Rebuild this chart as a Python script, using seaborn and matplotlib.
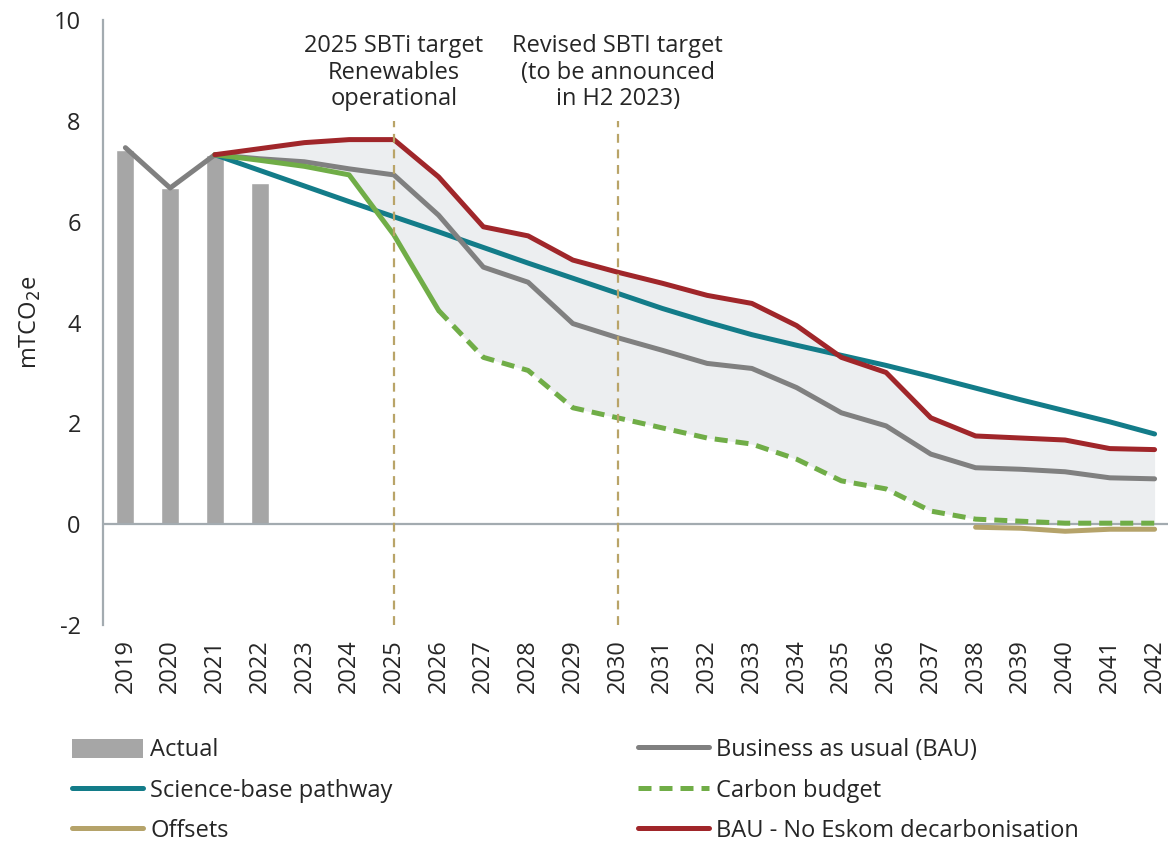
import numpy as np
import pandas as pd
import matplotlib
matplotlib.use("Agg")
import matplotlib.pyplot as plt
from matplotlib.lines import Line2D
from matplotlib.patches import Patch
import seaborn as sns

# values (mTCO2e)
years = list(range(2019, 2043))
actual_years = [2019, 2020, 2021, 2022]
actual = [7.43, 6.67, 7.33, 6.77]

bau = [7.47, 6.67, 7.33, 7.25, 7.19, 7.05, 6.93, 6.13, 5.10, 4.80, 3.98, 3.70,
       3.45, 3.19, 3.09, 2.71, 2.21, 1.95, 1.39, 1.12, 1.09, 1.04, 0.92, 0.90]

proj_years = list(range(2021, 2043))
science = [7.33, 7.02, 6.71, 6.40, 6.10, 5.80, 5.49, 5.18, 4.88, 4.58, 4.28,
           4.01, 3.76, 3.55, 3.35, 3.15, 2.93, 2.70, 2.47, 2.25, 2.03, 1.79]
carbon = [7.33, 7.22, 7.10, 6.93, 5.74, 4.24, 3.31, 3.05, 2.31, 2.11, 1.91,
          1.71, 1.59, 1.29, 0.86, 0.70, 0.26, 0.10, 0.06, 0.02, 0.02, 0.02]
no_eskom = [7.33, 7.45, 7.57, 7.63, 7.63, 6.89, 5.90, 5.72, 5.24, 5.00, 4.78,
            4.54, 4.38, 3.94, 3.31, 3.01, 2.11, 1.75, 1.71, 1.67, 1.50, 1.48]

offset_years = [2038, 2039, 2040, 2041, 2042]
offsets = [-0.06, -0.08, -0.14, -0.10, -0.10]

target_years = [2025, 2030]
target_labels = ["2025 SBTi target\nRenewables\noperational",
                 "Revised SBTI target\n(to be announced\nin H2 2023)"]

# colours
C_BAR = "#a6a6a6"
C_BAU = "#808080"
C_SCI = "#137c89"
C_CARB = "#70ad47"
C_OFF = "#b5a36a"
C_RED = "#a0262a"
C_FILL = "#eceef0"
C_VLINE = "#b9a468"
C_AXIS = "#a3abb0"
C_TEXT = "#262626"

FS = 17

sns.set_style("white")
plt.rcParams["font.family"] = ["Open Sans", "DejaVu Sans"]
plt.rcParams["axes.unicode_minus"] = False

fig = plt.figure(figsize=(11.68, 8.43), dpi=100)
ax = fig.add_axes([0.0882, 0.2586, 0.9118, 0.7175])

# shaded range between carbon budget and no-Eskom case
ax.fill_between(proj_years, carbon, no_eskom, color=C_FILL, lw=0, zorder=1)

# actual bars
bars = pd.DataFrame({"year": actual_years, "value": actual})
sns.barplot(data=bars, x="year", y="value", native_scale=True, width=0.4,
            color=C_BAR, saturation=1, ax=ax, zorder=2)

lw = 3.6
proj = pd.DataFrame({"year": proj_years, "science": science,
                     "carbon": carbon, "no_eskom": no_eskom})
sns.lineplot(data=proj, x="year", y="science", color=C_SCI, lw=lw, ax=ax,
             zorder=3)
sns.lineplot(x=years, y=bau, color=C_BAU, lw=lw, ax=ax, zorder=4)
sns.lineplot(data=proj.iloc[:6], x="year", y="carbon", color=C_CARB, lw=lw,
             ax=ax, zorder=5)
sns.lineplot(data=proj.iloc[5:], x="year", y="carbon", color=C_CARB, lw=lw,
             linestyle=(0, (2.6, 1.6)), ax=ax, zorder=5)
sns.lineplot(x=offset_years, y=offsets, color=C_OFF, lw=lw, ax=ax, zorder=5)
sns.lineplot(data=proj, x="year", y="no_eskom", color=C_RED, lw=lw, ax=ax,
             zorder=6)

# zero line
ax.axhline(0, color=C_AXIS, lw=1.6, zorder=2.5)

# target markers
for yr, lab in zip(target_years, target_labels):
    ax.plot([yr, yr], [-2, 8], color=C_VLINE, lw=1.6, ls=(0, (4, 3)),
            zorder=7)
    ax.text(yr, 9.72, lab, ha="center", va="top", fontsize=FS,
            color=C_TEXT, linespacing=1.13)

ax.set_xlim(2018.5, 2042.3)
ax.set_ylim(-2, 10)
ax.set_yticks([-2, 0, 2, 4, 6, 8, 10])
ax.set_xticks(years)
ax.set_xticklabels([str(y) for y in years], rotation=90)
ax.tick_params(axis="both", length=0, labelsize=FS, colors=C_TEXT)
ax.tick_params(axis="x", pad=10)
ax.tick_params(axis="y", pad=16)
ax.set_xlabel("")
ax.set_ylabel("mTCO$_2$e", fontsize=FS, color=C_TEXT, labelpad=8)
ax.grid(False)

for side in ["top", "right", "bottom"]:
    ax.spines[side].set_visible(False)
ax.spines["left"].set_color(C_AXIS)
ax.spines["left"].set_linewidth(1.6)

handles = [
    Patch(facecolor=C_BAR, edgecolor="none"),
    Line2D([], [], color=C_SCI, lw=lw, solid_capstyle="round"),
    Line2D([], [], color=C_OFF, lw=lw, solid_capstyle="round"),
    Line2D([], [], color=C_BAU, lw=lw, solid_capstyle="round"),
    Line2D([], [], color=C_CARB, lw=lw, ls=(0, (2.6, 1.6))),
    Line2D([], [], color=C_RED, lw=lw, solid_capstyle="round"),
]
labels = ["Actual", "Science-base pathway", "Offsets",
          "Business as usual (BAU)", "Carbon budget",
          "BAU - No Eskom decarbonisation"]
fig.legend(handles, labels, ncol=2, loc="upper left",
           bbox_to_anchor=(0.062, 0.124), frameon=False, fontsize=FS,
           handlelength=3.0, handleheight=0.9, handletextpad=0.3,
           columnspacing=10.4, labelspacing=0.68, borderpad=0,
           borderaxespad=0, labelcolor=C_TEXT)

fig.savefig("out.png", dpi=100)
